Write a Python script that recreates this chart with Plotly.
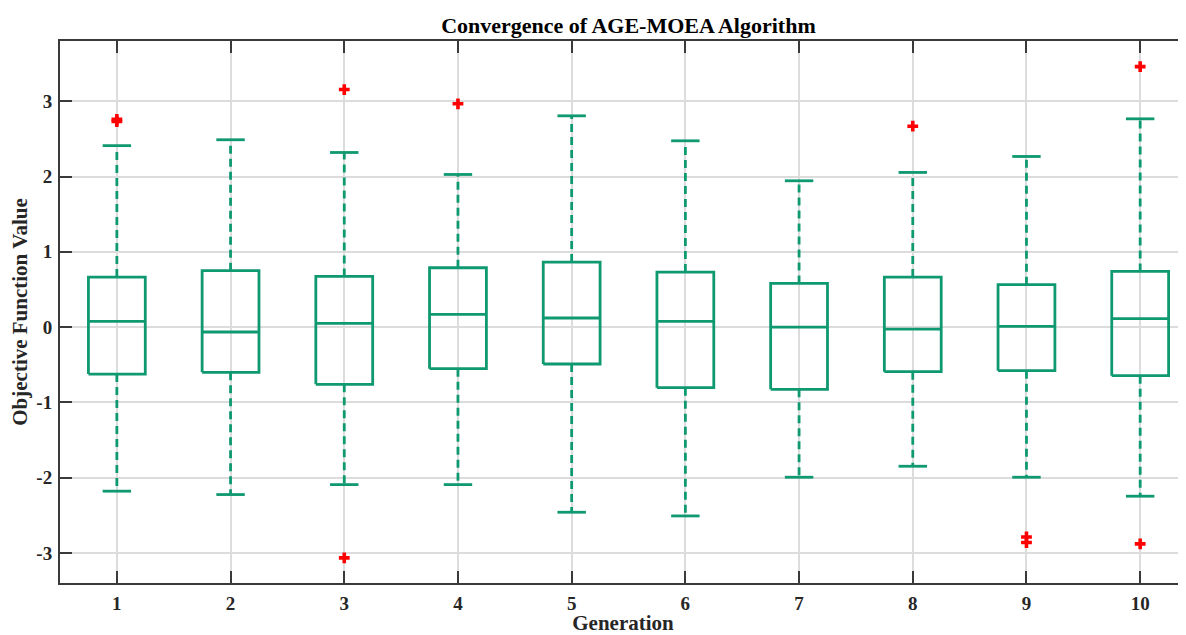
import plotly.graph_objects as go

generations = [1, 2, 3, 4, 5, 6, 7, 8, 9, 10]
q1 = [-0.624, -0.601, -0.761, -0.553, -0.491, -0.805, -0.827, -0.593, -0.579, -0.646]
median = [0.076, -0.066, 0.049, 0.169, 0.120, 0.076, 0.000, -0.027, 0.009, 0.111]
q3 = [0.664, 0.749, 0.673, 0.788, 0.863, 0.730, 0.580, 0.664, 0.563, 0.739]
lower_adj = [-2.180, -2.225, -2.093, -2.093, -2.460, -2.509, -1.995, -1.849, -1.995, -2.247]
upper_adj = [2.410, 2.488, 2.319, 2.027, 2.806, 2.474, 1.943, 2.054, 2.266, 2.766]
outlier_gen = [1, 1, 3, 3, 4, 8, 9, 9, 10, 10]
outlier_val = [2.73, 2.76, 3.155, -3.066, 2.966, 2.668, -2.788, -2.862, 3.46, -2.88]
tick_labels = [str(g) for g in generations]

GREEN = "#0f9970"
HALF_BOX = 0.25
HALF_CAP = 0.125

box_x, box_y = [], []
med_x, med_y = [], []
wh_x, wh_y = [], []
cap_x, cap_y = [], []
for g, a, m, b, lo, hi in zip(generations, q1, median, q3, lower_adj, upper_adj):
    box_x += [g - HALF_BOX, g + HALF_BOX, g + HALF_BOX, g - HALF_BOX, g - HALF_BOX, None]
    box_y += [a, a, b, b, a, None]
    med_x += [g - HALF_BOX, g + HALF_BOX, None]
    med_y += [m, m, None]
    wh_x += [g, g, None, g, g, None]
    wh_y += [b, hi, None, a, lo, None]
    cap_x += [g - HALF_CAP, g + HALF_CAP, None, g - HALF_CAP, g + HALF_CAP, None]
    cap_y += [hi, hi, None, lo, lo, None]

fig = go.Figure()
fig.add_trace(go.Scatter(x=wh_x, y=wh_y, mode="lines",
                         line=dict(color=GREEN, width=2.8, dash="8px,5px"),
                         hoverinfo="skip", showlegend=False))
fig.add_trace(go.Scatter(x=cap_x, y=cap_y, mode="lines",
                         line=dict(color=GREEN, width=2.8),
                         hoverinfo="skip", showlegend=False))
fig.add_trace(go.Scatter(x=box_x, y=box_y, mode="lines",
                         line=dict(color=GREEN, width=2.8),
                         hoverinfo="skip", showlegend=False))
fig.add_trace(go.Scatter(x=med_x, y=med_y, mode="lines",
                         line=dict(color=GREEN, width=2.8),
                         hoverinfo="skip", showlegend=False))
fig.add_trace(go.Scatter(x=outlier_gen, y=outlier_val, mode="markers",
                         marker=dict(symbol="cross", color="#ff0000", size=9,
                                     line=dict(width=0)),
                         showlegend=False))

FONT = "Liberation Serif"
fig.update_layout(
    width=1178, height=627,
    margin=dict(l=52, r=0, t=33, b=52),
    paper_bgcolor="white", plot_bgcolor="white",
    font=dict(family=FONT, color="#262626"),
    title=dict(text="<b>Convergence of AGE-MOEA Algorithm</b>",
               x=0.5267, xanchor="center", y=1 - 17 / 627, yanchor="middle",
               yref="container", font=dict(family=FONT, size=22, color="#000")),
    xaxis=dict(
        range=[0.5, 10.403], tickmode="array", tickvals=generations,
        ticktext=["<b>%s</b>" % t for t in tick_labels],
        ticks="inside", ticklen=12, tickwidth=2, tickcolor="#3a3a3a",
        showline=True, linecolor="#3a3a3a", linewidth=2, mirror="ticks",
        showgrid=True, gridcolor="#dcdcdc", gridwidth=1.5, zeroline=False,
        tickfont=dict(family=FONT, size=19, color="#262626"),
        ticklabelstandoff=2, automargin=False,
        title=dict(text="<b>Generation</b>", standoff=4,
                   font=dict(family=FONT, size=21, color="#262626")),
    ),
    yaxis=dict(
        range=[-3.4, 3.8], tickmode="array", tickvals=[-3, -2, -1, 0, 1, 2, 3],
        ticktext=["<b>%d</b>" % v for v in [-3, -2, -1, 0, 1, 2, 3]],
        ticks="inside", ticklen=12, tickwidth=2, tickcolor="#3a3a3a",
        showline=True, linecolor="#3a3a3a", linewidth=2,
        showgrid=True, gridcolor="#dcdcdc", gridwidth=1.5, zeroline=False,
        tickfont=dict(family=FONT, size=19, color="#262626"),
        ticklabelstandoff=2, automargin=False,
        title=dict(text="<b>Objective Function Value</b>", standoff=4,
                   font=dict(family=FONT, size=21, color="#262626")),
    ),
)

fig.write_html("out.html")
